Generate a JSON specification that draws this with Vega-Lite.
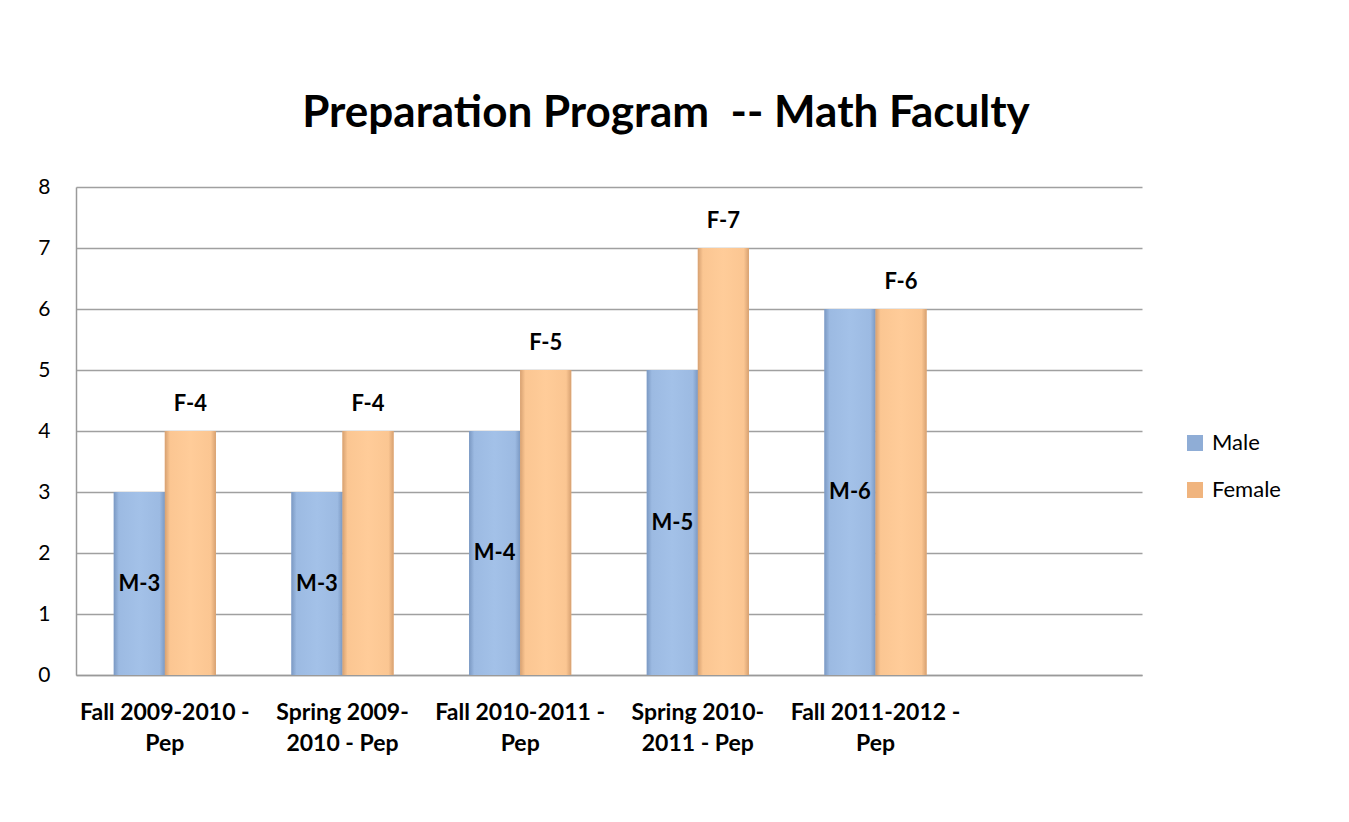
{
  "$schema": "https://vega.github.io/schema/vega-lite/v6.json",
  "width": 1066,
  "height": 488,
  "autosize": "none",
  "padding": {"left": 76, "top": 187, "right": 207, "bottom": 147},
  "background": "white",
  "title": {
    "text": "Preparation Program \u00a0-- Math Faculty",
    "font": "Lato",
    "fontSize": 44,
    "fontWeight": "bold",
    "color": "black",
    "anchor": "middle",
    "frame": "group",
    "baseline": "alphabetic",
    "offset": 5,
    "dx": 57
  },
  "data": {
    "values": [
      {"term": "Fall 2009-2010 - Pep", "sex": "Male", "value": 3, "label": "M-3"},
      {"term": "Fall 2009-2010 - Pep", "sex": "Female", "value": 4, "label": "F-4"},
      {"term": "Spring 2009-2010 - Pep", "sex": "Male", "value": 3, "label": "M-3"},
      {"term": "Spring 2009-2010 - Pep", "sex": "Female", "value": 4, "label": "F-4"},
      {"term": "Fall 2010-2011 - Pep", "sex": "Male", "value": 4, "label": "M-4"},
      {"term": "Fall 2010-2011 - Pep", "sex": "Female", "value": 5, "label": "F-5"},
      {"term": "Spring 2010-2011 - Pep", "sex": "Male", "value": 5, "label": "M-5"},
      {"term": "Spring 2010-2011 - Pep", "sex": "Female", "value": 7, "label": "F-7"},
      {"term": "Fall 2011-2012 - Pep", "sex": "Male", "value": 6, "label": "M-6"},
      {"term": "Fall 2011-2012 - Pep", "sex": "Female", "value": 6, "label": "F-6"}
    ]
  },
  "encoding": {
    "x": {
      "field": "term",
      "type": "nominal",
      "sort": null,
      "scale": {
        "domain": ["Fall 2009-2010 - Pep", "Spring 2009-2010 - Pep", "Fall 2010-2011 - Pep", "Spring 2010-2011 - Pep", "Fall 2011-2012 - Pep", " "],
        "paddingInner": 0,
        "paddingOuter": 0
      },
      "axis": {
        "title": null,
        "labelAngle": 0,
        "ticks": false,
        "domainColor": "#9a9a9a",
        "domainWidth": 1.5,
        "labelFont": "Lato",
        "labelFontSize": 23,
        "labelFontWeight": "bold",
        "labelColor": "black",
        "labelPadding": 26,
        "labelLineHeight": 31,
        "labelLimit": 400,
        "labelOverlap": false,
        "labelBound": false,
        "labelExpr": "datum.value == ' ' ? '' : (indexof(datum.value, 'Spring') == 0 ? [substring(datum.value, 0, 12), substring(datum.value, 12)] : [substring(datum.value, 0, 16), substring(datum.value, 17)])"
      }
    },
    "xOffset": {
      "field": "sex",
      "type": "nominal",
      "sort": null,
      "scale": {"domain": ["Male", "Female"], "paddingInner": 0, "paddingOuter": 0.74}
    }
  },
  "layer": [
    {
      "encoding": {
        "y": {
          "field": "value",
          "type": "quantitative",
          "scale": {"domain": [0, 8], "nice": false},
          "axis": {
            "title": null,
            "values": [0, 1, 2, 3, 4, 5, 6, 7, 8],
            "ticks": false,
            "grid": true,
            "gridColor": "#a0a0a0",
            "gridWidth": 1.3,
            "domainColor": "#9a9a9a",
            "domainWidth": 1.5,
            "labelFont": "Lato",
            "labelFontSize": 21,
            "labelColor": "black",
            "labelPadding": 26
          }
        }
      },
      "layer": [
        {
          "mark": {"type": "bar"},
          "encoding": {
            "color": {
              "field": "sex",
              "type": "nominal",
              "scale": {"domain": ["Male", "Female"], "range": ["#8fadd6", "#f0b47e"]},
              "legend": {
                "title": null,
                "orient": "none",
                "legendX": 1108,
                "legendY": 245,
                "symbolType": "square",
                "symbolSize": 256,
                "symbolStrokeWidth": 0,
                "labelFont": "Lato",
                "labelFontSize": 22,
                "labelColor": "black",
                "labelOffset": 6,
                "rowPadding": 25,
                "padding": 0
              }
            }
          }
        },
        {
          "transform": [{"filter": "datum.sex == 'Male'"}],
          "mark": {
            "type": "bar",
            "fill": {
              "gradient": "linear",
              "x1": 0, "y1": 0, "x2": 1, "y2": 0,
              "stops": [
                {"offset": 0, "color": "#7b99c3"},
                {"offset": 0.1, "color": "#9cbae2"},
                {"offset": 0.5, "color": "#a3c1e8"},
                {"offset": 0.9, "color": "#9cbae2"},
                {"offset": 1, "color": "#7b99c3"}
              ]
            }
          }
        },
        {
          "transform": [{"filter": "datum.sex == 'Female'"}],
          "mark": {
            "type": "bar",
            "fill": {
              "gradient": "linear",
              "x1": 0, "y1": 0, "x2": 1, "y2": 0,
              "stops": [
                {"offset": 0, "color": "#d7a171"},
                {"offset": 0.1, "color": "#fbc692"},
                {"offset": 0.5, "color": "#ffcc99"},
                {"offset": 0.9, "color": "#fbc692"},
                {"offset": 1, "color": "#d7a171"}
              ]
            }
          }
        },
        {
          "transform": [{"filter": "datum.sex == 'Female'"}],
          "mark": {"type": "text", "font": "Lato", "fontSize": 22, "fontWeight": "bold", "color": "black", "baseline": "middle", "dy": -27},
          "encoding": {"text": {"field": "label"}}
        }
      ]
    },
    {
      "transform": [{"filter": "datum.sex == 'Male'"}],
      "mark": {"type": "text", "font": "Lato", "fontSize": 22, "fontWeight": "bold", "color": "black", "baseline": "middle"},
      "encoding": {
        "y": {"field": "value", "type": "quantitative", "scale": {"domain": [0, 16], "nice": false}, "axis": null},
        "text": {"field": "label"}
      }
    }
  ],
  "resolve": {"scale": {"y": "independent"}},
  "config": {"view": {"stroke": null}}
}
